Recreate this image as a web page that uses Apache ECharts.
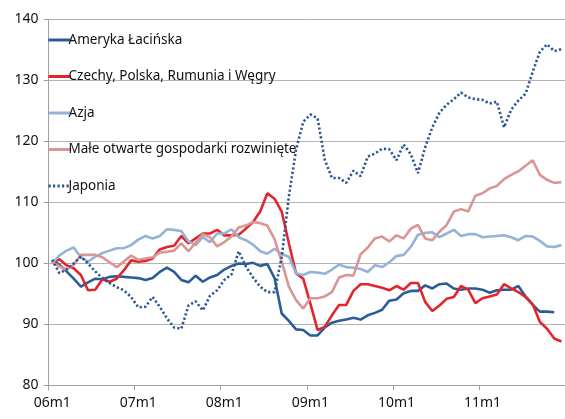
<!DOCTYPE html>
<html>
<head>
<meta charset="utf-8">
<script src="https://cdn.jsdelivr.net/npm/echarts@6/dist/echarts.min.js"></script>
<style>
  html, body { margin: 0; padding: 0; background: #fff; }
  #chart { width: 565px; height: 419px; }
</style>
</head>
<body>
<div id="chart"></div>
<script>
// months 06m1 .. 11m12
var categories = [];
for (var y = 6; y <= 11; y++) {
  for (var m = 1; m <= 12; m++) {
    categories.push((y < 10 ? '0' + y : '' + y) + 'm' + m);
  }
}

var names = ['Ameryka Łacińska', 'Czechy, Polska, Rumunia i Węgry', 'Azja',
             'Małe otwarte gospodarki rozwinięte', 'Japonia'];

var ameryka = [100.5, 99.8, 98.7, 97.5, 96.2, 96.9, 97.5, 97.4, 97.8, 97.9, 97.8, 97.7,
               97.6, 97.3, 97.6, 98.6, 99.3, 98.6, 97.3, 96.9, 98.0, 97.0, 97.7, 98.1,
               99.0, 99.6, 100.0, 99.9, 100.1, 99.6, 99.9, 97.6, 91.8, 90.6, 89.2, 89.1,
               88.2, 88.2, 89.5, 90.3, 90.6, 90.8, 91.1, 90.8, 91.5, 91.9, 92.4, 93.9,
               94.1, 95.1, 95.5, 95.5, 96.4, 95.9, 96.6, 96.7, 95.9, 95.7, 95.9, 95.9,
               95.7, 95.2, 95.6, 95.7, 95.7, 96.3, 94.6, 93.2, 92.1, 92.1, 92.0, null];

var czechy = [100.0, 100.7, 99.7, 99.2, 98.1, 95.6, 95.7, 97.4, 97.0, 97.5, 98.9, 100.5,
              100.3, 100.4, 100.8, 102.3, 102.7, 102.9, 104.5, 103.3, 104.1, 104.9, 104.9, 105.5,
              104.6, 104.6, 104.7, 105.7, 106.8, 108.5, 111.5, 110.6, 108.5, 103.3, 98.4, 97.5,
              93.4, 89.1, 89.6, 91.5, 93.2, 93.2, 95.5, 96.6, 96.6, 96.3, 96.0, 95.6,
              96.3, 95.7, 96.8, 96.8, 93.7, 92.2, 93.1, 94.2, 94.5, 96.3, 95.7, 93.5,
              94.3, 94.6, 94.9, 96.6, 95.9, 95.3, 94.5, 93.3, 90.4, 89.3, 87.7, 87.2];

var azja = [100.0, 101.3, 102.1, 102.6, 101.0, 100.3, 101.1, 101.7, 102.1, 102.5, 102.5, 103.0,
            103.9, 104.5, 104.1, 104.5, 105.6, 105.5, 105.3, 103.6, 103.0, 104.3, 103.5, 104.9,
            104.9, 105.6, 104.3, 103.8, 103.1, 102.0, 101.6, 102.4, 101.5, 101.1, 98.4, 98.1,
            98.6, 98.5, 98.3, 99.0, 99.8, 99.4, 99.3, 99.1, 98.6, 99.7, 99.4, 100.2,
            101.2, 101.4, 102.7, 104.7, 105.0, 105.1, 104.3, 104.9, 105.5, 104.5, 104.8, 104.8,
            104.3, 104.4, 104.5, 104.6, 104.3, 103.8, 104.5, 104.4, 103.7, 102.8, 102.7, 103.0];

var male = [100.2, 99.5, 99.0, 99.8, 101.4, 101.4, 101.4, 101.0, 100.2, 99.4, 100.3, 101.3,
            100.6, 100.8, 101.0, 101.8, 101.9, 102.1, 103.3, 102.0, 103.4, 104.8, 104.3, 102.8,
            103.5, 104.4, 105.9, 106.2, 106.8, 106.6, 106.2, 104.0, 100.3, 96.2, 94.0, 92.6,
            94.3, 94.3, 94.6, 95.3, 97.7, 98.1, 98.0, 101.5, 102.6, 104.1, 104.4, 103.6,
            104.6, 104.1, 105.7, 106.3, 104.1, 103.8, 105.2, 106.3, 108.5, 108.9, 108.5, 111.1,
            111.5, 112.3, 112.7, 113.8, 114.5, 115.1, 116.0, 116.9, 114.5, 113.7, 113.2, 113.3];

var japonia = [100.6, 98.4, 99.0, 100.0, 101.1, 100.0, 98.7, 97.6, 96.8, 96.1, 95.6, 94.5,
               92.8, 92.9, 94.5, 92.9, 91.0, 89.5, 89.3, 93.1, 93.8, 92.3, 94.7, 95.6,
               97.3, 98.2, 102.0, 99.5, 97.7, 96.2, 95.3, 95.3, 101.0, 111.0, 118.6, 123.2,
               124.4, 123.8, 117.0, 114.0, 114.0, 113.2, 115.2, 114.3, 117.5, 118.0, 118.8, 118.7,
               116.9, 119.5, 117.9, 114.8, 119.0, 122.3, 124.7, 126.0, 126.9, 128.0, 127.2, 126.9,
               126.8, 126.2, 126.5, 122.3, 125.2, 126.7, 127.8, 131.4, 134.7, 135.9, 134.8, 135.1];

var colors = ['#2c5c97', '#e2262c', '#95b3d7', '#d99694', '#2b5592'];
var axisColor = '#a0a0a0';
var font = 'Noto Sans';

function lineSeries(name, data, color, type) {
  return {
    name: name,
    type: 'line',
    data: data,
    symbol: 'none',
    smooth: false,
    lineStyle: { color: color, width: 2.6, type: type || 'solid', cap: 'butt' },
    itemStyle: { color: color }
  };
}

var option = {
  animation: false,
  backgroundColor: '#fff',
  grid: { left: 48.6, right: -3.4, top: 19.3, bottom: 33.5 },
  legend: {
    orient: 'vertical',
    left: 42,
    top: 28,
    itemWidth: 22,
    itemHeight: 14,
    itemGap: 22.5,
    itemStyle: { opacity: 0 },
    lineStyle: { width: 3 },
    textStyle: { color: '#111', fontFamily: font, fontSize: 13.5, padding: [0, 0, 0, -7] },
    data: names
  },
  xAxis: {
    type: 'category',
    data: categories,
    boundaryGap: true,
    axisLine: { lineStyle: { color: axisColor, width: 1 } },
    axisTick: { show: true, interval: 11, length: 5, lineStyle: { color: axisColor } },
    axisLabel: { interval: 11, color: '#111', fontFamily: font, fontSize: 14, margin: 11 },
    splitLine: { show: false }
  },
  yAxis: {
    type: 'value',
    min: 80,
    max: 140,
    interval: 10,
    axisLine: { show: true, lineStyle: { color: axisColor, width: 1 } },
    axisTick: { show: true, length: 5, lineStyle: { color: axisColor } },
    axisLabel: { color: '#111', fontFamily: font, fontSize: 14, margin: 10 },
    splitLine: { show: true, lineStyle: { color: '#b4b4b4', width: 1 } }
  },
  series: [
    lineSeries(names[0], ameryka, colors[0]),
    lineSeries(names[1], czechy, colors[1]),
    lineSeries(names[2], azja, colors[2]),
    lineSeries(names[3], male, colors[3]),
    lineSeries(names[4], japonia, colors[4], [2.2, 2.3])
  ]
};

var myChart = echarts.init(document.getElementById('chart'));
myChart.setOption(option);
</script>
</body>
</html>
